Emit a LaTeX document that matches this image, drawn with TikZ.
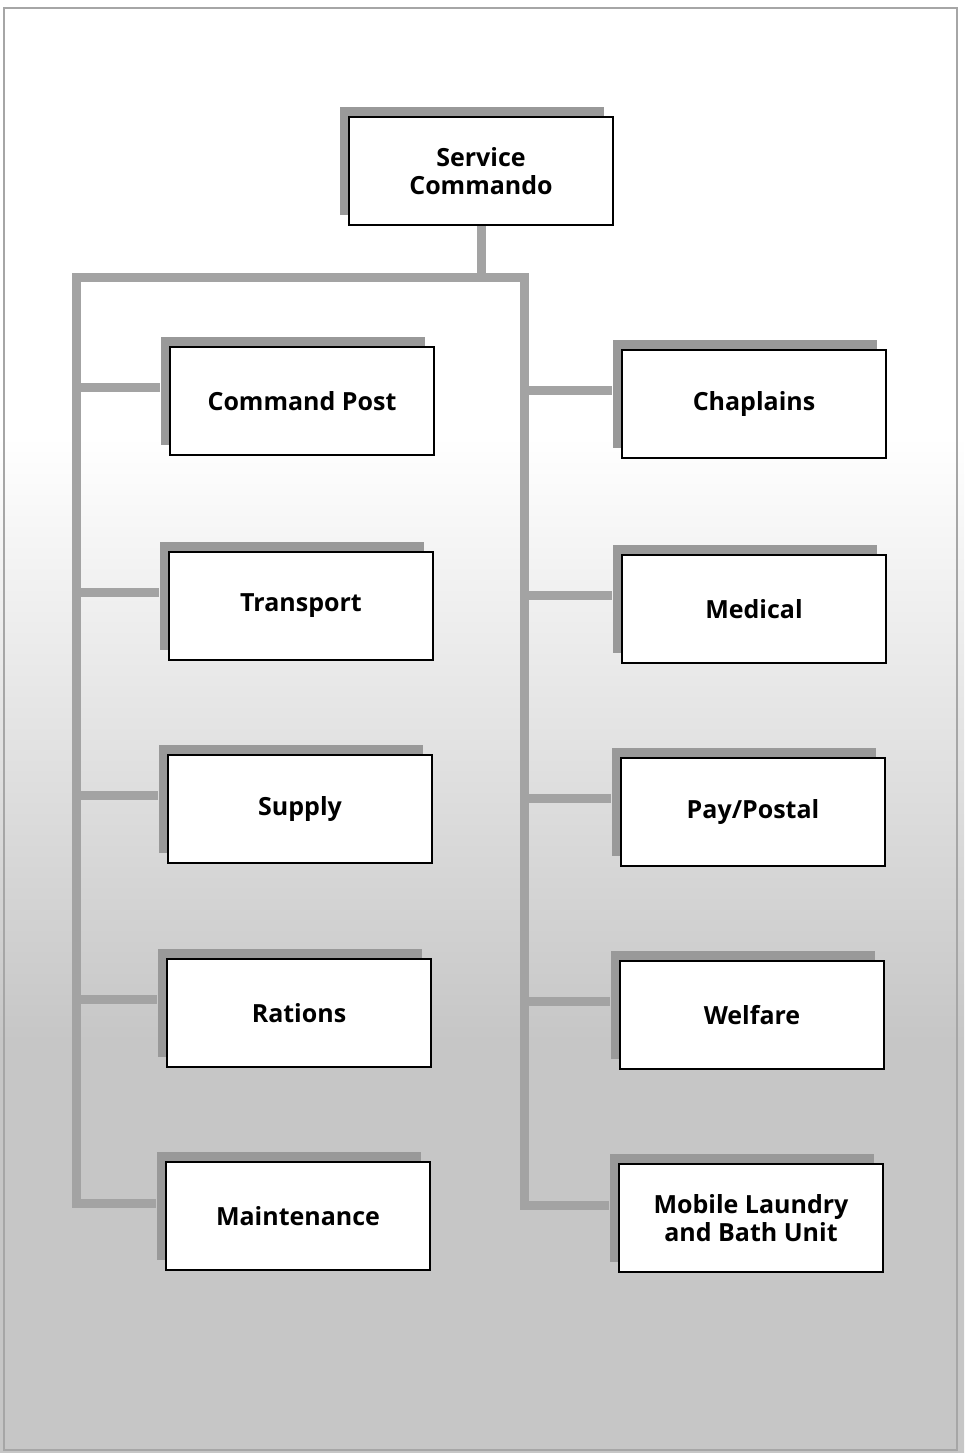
\documentclass[tikz,border=0pt]{standalone}
\usepackage{fontspec}
\setmainfont{Open Sans}
\usetikzlibrary{shadows}

\definecolor{linegray}{gray}{0.64}
\definecolor{shadegray}{gray}{0.60}
\pgfdeclareverticalshading{paper}{100bp}{color(0bp)=(gray!45); color(39bp)=(gray!45); color(60bp)=(white); color(100bp)=(white)}

\tikzset{
  unit/.style={draw, line width=2.5pt, fill=white, minimum width=264pt,
    minimum height=108pt, inner sep=0pt, align=center,
    font=\fontsize{25}{28}\selectfont\bfseries,
    drop shadow={shadow xshift=-9pt, shadow yshift=10pt, fill=shadegray, opacity=1}},
  link/.style={draw=linegray, line width=9pt}
}

\begin{document}
\begin{tikzpicture}[x=1pt, y=-1pt]
\useasboundingbox (0,0) rectangle (964,1453);

% page
\shade[shading=paper] (0,0) rectangle (964,1453);
\draw[gray!70, line width=1.5pt] (4,8) rectangle (957,1450);

% boxes
\node[unit] (sc) at (481,171) {Service\\Commando};

\node[unit] (cp) at (302,401) {Command Post};
\node[unit] (tp) at (301,606) {Transport};
\node[unit] (su) at (300,809) {Supply};
\node[unit] (ra) at (299,1013) {Rations};
\node[unit] (mt) at (298,1216) {Maintenance};

\node[unit] (ch) at (754,404) {Chaplains};
\node[unit] (me) at (754,609) {Medical};
\node[unit] (pp) at (753,812) {Pay/Postal};
\node[unit] (wf) at (752,1015) {Welfare};
\node[unit] (ml) at (751,1218) {Mobile Laundry\\and Bath Unit};

% trunk
\coordinate (jl) at (76,277);
\coordinate (jr) at (524,277);
\draw[link] (sc.south) -- (sc.south |- jl);
\draw[link] ([xshift=-9pt,yshift=13pt]mt.west) -| (jl) -- (jr) |- ([xshift=-9pt,yshift=13pt]ml.west);

% branches
\foreach \n in {cp,tp,su,ra} {
  \draw[link] ([xshift=-9pt,yshift=14pt]\n.west) -- ([yshift=14pt]\n.west -| jl);
}
\foreach \n in {ch,me,pp,wf} {
  \draw[link] ([xshift=-9pt,yshift=14pt]\n.west) -- ([yshift=14pt]\n.west -| jr);
}

\end{tikzpicture}
\end{document}
